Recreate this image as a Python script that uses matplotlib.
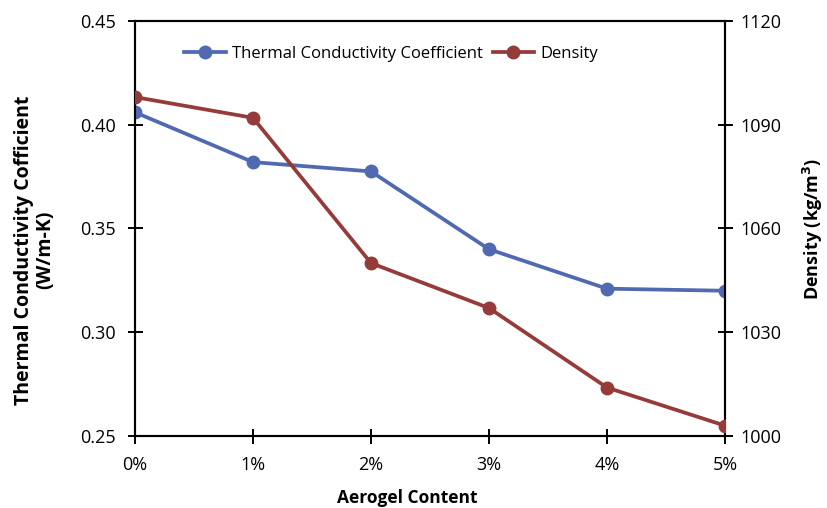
import matplotlib
matplotlib.use("Agg")
import matplotlib.pyplot as plt

# Aerogel content levels and measured properties
categories = ["0%", "1%", "2%", "3%", "4%", "5%"]
conductivity = [0.406, 0.382, 0.3775, 0.340, 0.321, 0.320]
density = [1098, 1092, 1050, 1037, 1014, 1003]

left_ticks = [0.25, 0.30, 0.35, 0.40, 0.45]
right_ticks = [1000, 1030, 1060, 1090, 1120]

plt.rcParams["font.family"] = ["Open Sans", "DejaVu Sans"]

blue = "#5069B1"
red = "#953C3A"

fig = plt.figure(figsize=(8.27, 5.08), dpi=100)
ax = fig.add_axes([0.1632, 0.1417, 0.7135, 0.817])
ax2 = ax.twinx()

x = list(range(len(categories)))
l1, = ax.plot(x, conductivity, color=blue, lw=2.7, marker="o", ms=9,
              label="Thermal Conductivity Coefficient", zorder=3)
l2, = ax2.plot(x, density, color=red, lw=2.7, marker="o", ms=9,
               label="Density", zorder=3)

ax.set_xlim(0, 5)
ax.set_ylim(0.25, 0.45)
ax2.set_ylim(1000, 1120)
ax.set_xticks(x)
ax.set_xticklabels(categories)
ax.set_yticks(left_ticks)
ax.set_yticklabels([f"{v:.2f}" for v in left_ticks])
ax2.set_yticks(right_ticks)
ax2.set_yticklabels([str(v) for v in right_ticks])

for a in (ax, ax2):
    for s in a.spines.values():
        s.set_linewidth(1.5)
        s.set_color("black")
    a.tick_params(direction="inout", length=10.8, width=1.4, labelsize=13,
                  colors="black")
ax.tick_params(axis="x", pad=9)
ax.tick_params(axis="y", pad=8.3)
ax2.tick_params(axis="y", pad=5.4)

ax.set_xlabel("Aerogel Content", fontsize=12.5, fontweight="bold")
ax.xaxis.set_label_coords(0.461, -0.128)
ax.set_ylabel("Thermal Conductivity Cofficient\n(W/m-K)", fontsize=14,
              fontweight="bold", linespacing=1.05)
ax.yaxis.set_label_coords(-0.1356, 0.448)
ax2.set_ylabel("Density (kg/m$^\\mathbf{3}$)", fontsize=13, fontweight="bold")
ax2.yaxis.set_label_coords(1.128, 0.5)

for a in (ax, ax2):
    for lab in a.get_xticklabels() + a.get_yticklabels():
        lab.set_clip_on(False)

leg = ax.legend(handles=[l1, l2], loc="center",
                bbox_to_anchor=(0.434, 0.92), ncol=2, frameon=False,
                fontsize=12, handlelength=2.5, handletextpad=0.35,
                columnspacing=0.6, borderpad=0, borderaxespad=0)

fig.savefig("out.png", dpi=100)
